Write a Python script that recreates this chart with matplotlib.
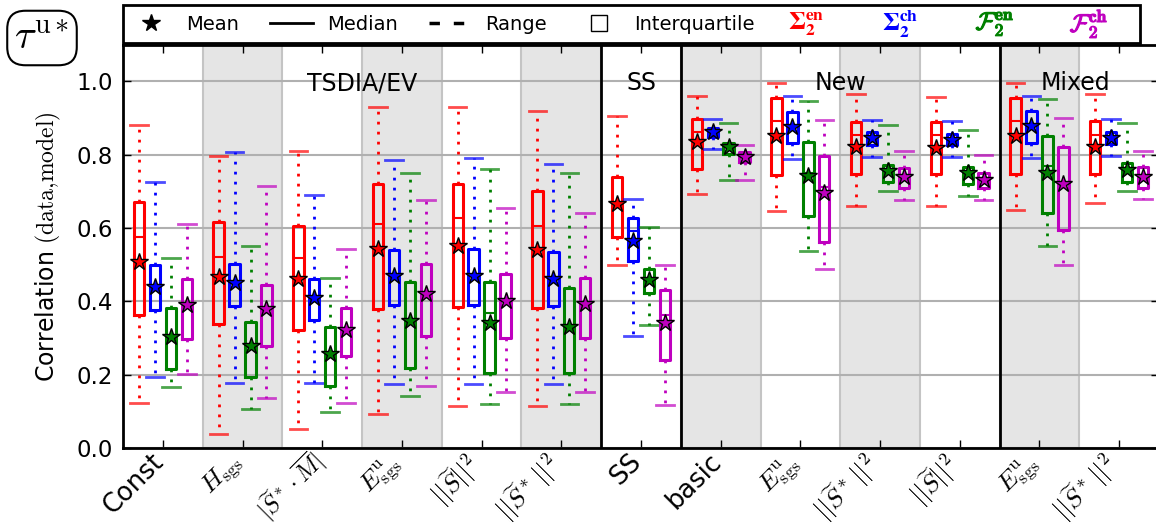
import matplotlib
matplotlib.use('Agg')
import matplotlib.pyplot as plt
import matplotlib.patheffects as pe
from matplotlib.lines import Line2D
from matplotlib.patches import Rectangle
from matplotlib.transforms import ScaledTranslation

plt.rcParams['font.family'] = ['DejaVu Sans']
plt.rcParams['mathtext.fontset'] = 'cm'

# model labels along x, grouped by family
xlabels = ['Const', r'$H_{\rm sgs}$', r'$|\widetilde{S}^*\cdot\overline{M}|$',
           r'$E^{\rm u}_{\rm sgs}$', r'$||\widetilde{S}||^2$', r'$||\widetilde{S}^*\,||^2$',
           'SS',
           'basic', r'$E^{\rm u}_{\rm sgs}$', r'$||\widetilde{S}^*\,||^2$', r'$||\widetilde{S}||^2$',
           r'$E^{\rm u}_{\rm sgs}$', r'$||\widetilde{S}^*\,||^2$']
families = ['TSDIA/EV', 'SS', 'New', 'Mixed']

series = [r'$\mathbf{\Sigma}_\mathbf{2}^\mathbf{en}$', r'$\mathbf{\Sigma}_\mathbf{2}^\mathbf{ch}$',
          r'$\mathcal{F}_\mathbf{2}^\mathbf{en}$', r'$\mathcal{F}_\mathbf{2}^\mathbf{ch}$']
series_math = ['stix', 'stix', 'cm', 'cm']
colors = [(1, 0, 0), (0, 0, 1), (0, 0.5, 0), (0.75, 0, 0.75)]

# per series (rows) and model (columns)
w_lo = [[0.123, 0.038, 0.052, 0.092, 0.114, 0.114, 0.500, 0.692, 0.647, 0.661, 0.661, 0.649, 0.667],
        [0.194, 0.177, 0.176, 0.174, 0.174, 0.174, 0.306, 0.815, 0.788, 0.794, 0.794, 0.791, 0.796],
        [0.166, 0.107, 0.099, 0.141, 0.119, 0.119, 0.335, 0.732, 0.537, 0.700, 0.687, 0.550, 0.701],
        [0.203, 0.136, 0.122, 0.168, 0.154, 0.154, 0.118, 0.730, 0.487, 0.675, 0.675, 0.500, 0.680]]
q1 = [[0.364, 0.338, 0.321, 0.378, 0.384, 0.381, 0.576, 0.762, 0.744, 0.747, 0.747, 0.746, 0.747],
      [0.376, 0.387, 0.348, 0.391, 0.390, 0.388, 0.509, 0.849, 0.832, 0.826, 0.826, 0.832, 0.829],
      [0.216, 0.194, 0.169, 0.218, 0.204, 0.205, 0.424, 0.803, 0.632, 0.724, 0.721, 0.641, 0.726],
      [0.298, 0.278, 0.250, 0.306, 0.301, 0.300, 0.239, 0.780, 0.562, 0.709, 0.708, 0.594, 0.710]]
med = [[0.576, 0.521, 0.518, 0.610, 0.626, 0.606, 0.665, 0.862, 0.891, 0.854, 0.854, 0.892, 0.854],
       [0.440, 0.450, 0.410, 0.470, 0.470, 0.460, 0.591, 0.862, 0.878, 0.845, 0.842, 0.880, 0.846],
       [0.300, 0.275, 0.255, 0.345, 0.367, 0.330, 0.457, 0.820, 0.750, 0.755, 0.749, 0.769, 0.758],
       [0.390, 0.380, 0.323, 0.420, 0.400, 0.395, 0.364, 0.794, 0.711, 0.738, 0.730, 0.720, 0.739]]
q3 = [[0.670, 0.615, 0.605, 0.720, 0.721, 0.702, 0.738, 0.897, 0.955, 0.890, 0.890, 0.955, 0.891],
      [0.498, 0.501, 0.461, 0.540, 0.542, 0.534, 0.628, 0.873, 0.917, 0.862, 0.856, 0.919, 0.862],
      [0.382, 0.344, 0.330, 0.452, 0.452, 0.437, 0.488, 0.832, 0.835, 0.773, 0.767, 0.850, 0.776],
      [0.460, 0.445, 0.383, 0.502, 0.475, 0.464, 0.432, 0.808, 0.797, 0.763, 0.749, 0.821, 0.765]]
w_hi = [[0.880, 0.796, 0.809, 0.930, 0.929, 0.918, 0.905, 0.960, 0.994, 0.965, 0.958, 0.994, 0.965],
        [0.726, 0.806, 0.690, 0.785, 0.790, 0.774, 0.678, 0.896, 0.960, 0.894, 0.891, 0.960, 0.898],
        [0.518, 0.550, 0.463, 0.751, 0.761, 0.749, 0.602, 0.887, 0.947, 0.880, 0.867, 0.953, 0.887],
        [0.610, 0.714, 0.542, 0.677, 0.655, 0.640, 0.499, 0.826, 0.894, 0.810, 0.799, 0.900, 0.810]]
means = [[0.506, 0.466, 0.460, 0.542, 0.551, 0.539, 0.664, 0.835, 0.850, 0.820, 0.819, 0.850, 0.820],
         [0.438, 0.450, 0.410, 0.468, 0.468, 0.460, 0.565, 0.862, 0.876, 0.844, 0.841, 0.878, 0.846],
         [0.303, 0.277, 0.255, 0.346, 0.341, 0.330, 0.457, 0.820, 0.741, 0.755, 0.749, 0.751, 0.758],
         [0.389, 0.380, 0.323, 0.419, 0.400, 0.394, 0.340, 0.794, 0.694, 0.738, 0.730, 0.721, 0.739]]

n = len(xlabels)
W, H = 1156, 532
fig = plt.figure(figsize=(W / 100, H / 100), dpi=100)
ax = fig.add_axes([123 / W, 1 - 448 / H, 1036 / W, (448 - 44.6) / H])

# alternating shaded columns and family separators
for k in range(1, n, 2):
    ax.axvspan(k - 0.5, k + 0.5, fc='#e5e5e5', ec='#c4c4c4', lw=1.5, zorder=0.1)
for xs in [5.5, 6.5, 10.5]:
    ax.axvline(xs, color='k', lw=2, zorder=1.5)

offsets = [-0.3, -0.1, 0.1, 0.3]
for s in range(4):
    c = colors[s]
    stats = []
    for k in range(n):
        stats.append(dict(whislo=w_lo[s][k], q1=q1[s][k], med=med[s][k], q3=q3[s][k],
                          whishi=w_hi[s][k], mean=means[s][k], fliers=[]))
    pos = [k + offsets[s] for k in range(n)]
    ax.bxp(stats, positions=pos, widths=0.13, capwidths=0.22, showmeans=True,
           manage_ticks=False,
           boxprops=dict(color=c, lw=2.2),
           whiskerprops=dict(color=c, lw=2, linestyle=(0, (1, 2.6))),
           capprops=dict(color=c, lw=2, alpha=0.7),
           medianprops=dict(color=c, lw=1.5),
           meanprops=dict(marker='*', markerfacecolor=c, markeredgecolor='k',
                          markeredgewidth=1, markersize=13))

for name, xc in zip(families, [2.5, 6, 8.5, 11.45]):
    ax.text(xc, 0.975, name, ha='center', va='baseline', fontsize=17)

ax.set_xlim(-0.5, n - 0.5)
ax.set_ylim(0, 1.1)
ax.set_yticks([0, 0.2, 0.4, 0.6, 0.8, 1.0])
ax.set_yticklabels(['0.0', '0.2', '0.4', '0.6', '0.8', '1.0'])
ax.set_xticks(range(n))
ax.set_xticklabels(xlabels, rotation=45, ha='right', fontsize=18.5)
ax.tick_params(direction='in', top=True, right=True, length=6, width=1)
ax.tick_params(axis='y', labelsize=16.5, pad=7)
ax.tick_params(axis='x', pad=4)
for i, lab in enumerate(ax.get_xticklabels()):
    dx, dy = 0.06, 0.045
    if i == 2:
        # the tallest label sits a little higher so it stays inside the figure
        lab.set_fontsize(17)
        dx, dy = 0.08, 0.075
    lab.set_transform(lab.get_transform() + ScaledTranslation(dx, dy, fig.dpi_scale_trans))
ax.yaxis.grid(True, color='#b0b0b0', lw=1.5)
ax.set_axisbelow(True)
for sp in ax.spines.values():
    sp.set_linewidth(2)
ax.set_ylabel(r'Correlation $\mathrm{(data{,}model)}$', fontsize=17, labelpad=10)

# key box across the top
fig.add_artist(Rectangle((123 / W, 1 - 43 / H), 1017 / W, 38 / H, transform=fig.transFigure,
                         fill=False, ec='k', lw=2))
handles = [Line2D([], [], marker='*', color='k', ls='none', ms=13),
           Line2D([], [], color='k', lw=2),
           Line2D([], [], color='k', lw=2.5, ls=(0, (3, 4))),
           Line2D([], [], marker='s', mfc='w', mec='k', ls='none', ms=12)]
fig.legend(handles, ['Mean', 'Median', 'Range', 'Interquartile'], loc='center left',
           bbox_to_anchor=(130 / W, 1 - 24 / H), ncol=4, frameon=False, fontsize=14,
           handlelength=2.2, handletextpad=0.7, columnspacing=1.6,
           borderpad=0, borderaxespad=0)
for lab, c, xc, mf in zip(series, colors, [806, 900, 995, 1089], series_math):
    t = fig.text(xc / W, 1 - 24 / H, lab, color=c, ha='center', va='center', fontsize=18,
                 math_fontfamily=mf)
    if mf == 'cm':
        t.set_path_effects([pe.withStroke(linewidth=0.8, foreground=c)])

fig.text(42 / W, 1 - 38 / H, r'$\tau^{\mathrm{u}*}$', ha='center', va='center', fontsize=29,
         bbox=dict(boxstyle='round,pad=0.18,rounding_size=0.45', fc='w', ec='k', lw=1.5))

fig.savefig('out.png', dpi=100)
